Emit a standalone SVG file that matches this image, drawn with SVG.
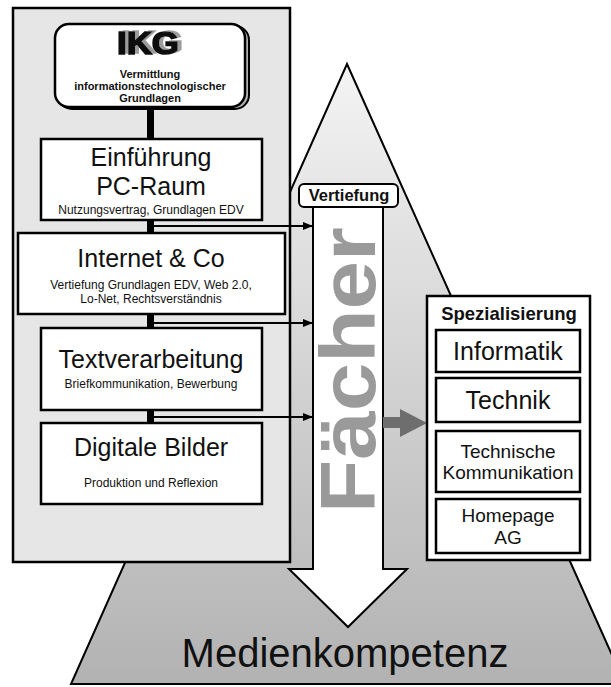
<svg xmlns="http://www.w3.org/2000/svg" width="611" height="687" viewBox="0 0 611 687">
<defs>
<linearGradient id="triGrad" x1="0" y1="64" x2="0" y2="684" gradientUnits="userSpaceOnUse">
<stop offset="0" stop-color="#f4f4f4"/>
<stop offset="0.45" stop-color="#d6d6d6"/>
<stop offset="1" stop-color="#b2b2b2"/>
</linearGradient>
<filter id="sh" x="-20%" y="-30%" width="150%" height="160%">
<feOffset in="SourceAlpha" dx="4" dy="-1" result="o"/>
<feFlood flood-color="#9c9c9c"/>
<feComposite in2="o" operator="in" result="s"/>
<feMerge><feMergeNode in="s"/><feMergeNode in="SourceGraphic"/></feMerge>
</filter>
<marker id="ah" markerWidth="10" markerHeight="8" refX="10" refY="4" orient="auto" markerUnits="userSpaceOnUse">
<path d="M0,0 L10,4 L0,8 Z" fill="#000"/>
</marker>
<style>
.box{fill:#fff;stroke:#000;stroke-width:2.5}
.big{font-family:"Liberation Sans",Arial,sans-serif;font-size:25px;fill:#111;text-anchor:middle}
.small{font-family:"Liberation Sans",Arial,sans-serif;font-size:12px;fill:#111;text-anchor:middle}
.bold{font-family:"Liberation Sans",Arial,sans-serif;font-weight:bold;fill:#111;text-anchor:middle}
.mid{font-family:"Liberation Sans",Arial,sans-serif;font-size:19px;fill:#111;text-anchor:middle}
.link{stroke:#000;stroke-width:2;fill:none}
.block{fill:#000}
</style>
</defs>
<rect width="611" height="687" fill="#fff"/>

<g id="pyramid">
<polygon points="347,64 625,684 71,684" fill="url(#triGrad)" stroke="#000" stroke-width="2"/>
<text x="345" y="667" font-family="Liberation Sans,Arial,sans-serif" font-size="40" fill="#111" text-anchor="middle">Medienkompetenz</text>
</g>

<g id="panel">
<rect x="13" y="8" width="277" height="554" fill="#e6e6e6" stroke="#000" stroke-width="2.5"/>
</g>

<g id="faecher">
<polygon points="313,207 383,207 383,569 407,569 348,627 289,569 313,569" fill="#fff" stroke="#000" stroke-width="2"/>
<text transform="translate(375,370) rotate(-90)" x="0" y="0" font-family="Liberation Sans,Arial,sans-serif" font-weight="bold" font-size="77" fill="#9a9a9a" text-anchor="middle" textLength="286" lengthAdjust="spacingAndGlyphs">Fächer</text>
</g>

<g id="vertiefung">
<rect x="299" y="184" width="99" height="23" rx="5" fill="#fff" stroke="#000" stroke-width="2"/>
<text x="349" y="201" class="bold" font-size="16.5">Vertiefung</text>
</g>

<g id="connectors">
<rect class="block" x="147" y="108" width="7" height="31"/>
<rect class="block" x="147" y="220" width="7" height="13"/>
<rect class="block" x="147" y="314" width="7" height="14"/>
<rect class="block" x="147" y="410" width="7" height="13"/>
<line class="link" x1="154" y1="226" x2="313" y2="226" marker-end="url(#ah)"/>
<line class="link" x1="154" y1="323" x2="313" y2="323" marker-end="url(#ah)"/>
<line class="link" x1="154" y1="417" x2="313" y2="417" marker-end="url(#ah)"/>
<polygon points="383,417 400,417 400,409 427,423 400,437 400,428 383,428" fill="#6e6e6e"/>
</g>

<g id="ikg">
<rect x="58" y="26" width="191" height="83" rx="14" fill="#b0b0b0" stroke="#000" stroke-width="2"/>
<rect x="55" y="24" width="190" height="83" rx="14" class="box"/>
<text x="148" y="54" class="bold" font-size="31" stroke="#111" stroke-width="1.6" textLength="62" lengthAdjust="spacingAndGlyphs" filter="url(#sh)">IKG</text>
<text x="150" y="78" class="bold" font-size="11">Vermittlung</text>
<text x="150" y="90" class="bold" font-size="11">informationstechnologischer</text>
<text x="150" y="102" class="bold" font-size="11">Grundlagen</text>
</g>

<g id="einfuehrung">
<rect x="41" y="139" width="221" height="81" class="box"/>
<text x="151" y="166" class="big">Einführung</text>
<text x="151" y="195" class="big">PC-Raum</text>
<text x="151" y="214" class="small">Nutzungsvertrag, Grundlagen EDV</text>
</g>

<g id="internet">
<rect x="18" y="233" width="267" height="81" class="box"/>
<text x="151" y="267" class="big">Internet &amp; Co</text>
<text x="151" y="289" class="small">Vertiefung Grundlagen EDV, Web 2.0,</text>
<text x="151" y="303" class="small">Lo-Net, Rechtsverständnis</text>
</g>

<g id="textverarbeitung">
<rect x="41" y="328" width="221" height="82" class="box"/>
<text x="151" y="368" class="big">Textverarbeitung</text>
<text x="151" y="388" class="small">Briefkommunikation, Bewerbung</text>
</g>

<g id="bilder">
<rect x="41" y="423" width="221" height="81" class="box"/>
<text x="151" y="456" class="big">Digitale Bilder</text>
<text x="151" y="487" class="small">Produktion und Reflexion</text>
</g>

<g id="spezialisierung">
<rect x="427" y="296" width="163" height="264" class="box"/>
<text x="509" y="320" class="bold" font-size="18.5">Spezialisierung</text>
</g>

<g id="informatik">
<rect x="436" y="330" width="144" height="42" class="box"/>
<text x="508" y="360" class="big">Informatik</text>
</g>

<g id="technik">
<rect x="436" y="378" width="144" height="44" class="box"/>
<text x="508" y="409" class="big">Technik</text>
</g>

<g id="techkomm">
<rect x="436" y="431" width="144" height="61" class="box"/>
<text x="508" y="458" class="mid">Technische</text>
<text x="508" y="479" class="mid">Kommunikation</text>
</g>

<g id="homepage">
<rect x="436" y="499" width="144" height="54" class="box"/>
<text x="508" y="522" class="mid">Homepage</text>
<text x="508" y="544" class="mid">AG</text>
</g>
</svg>
